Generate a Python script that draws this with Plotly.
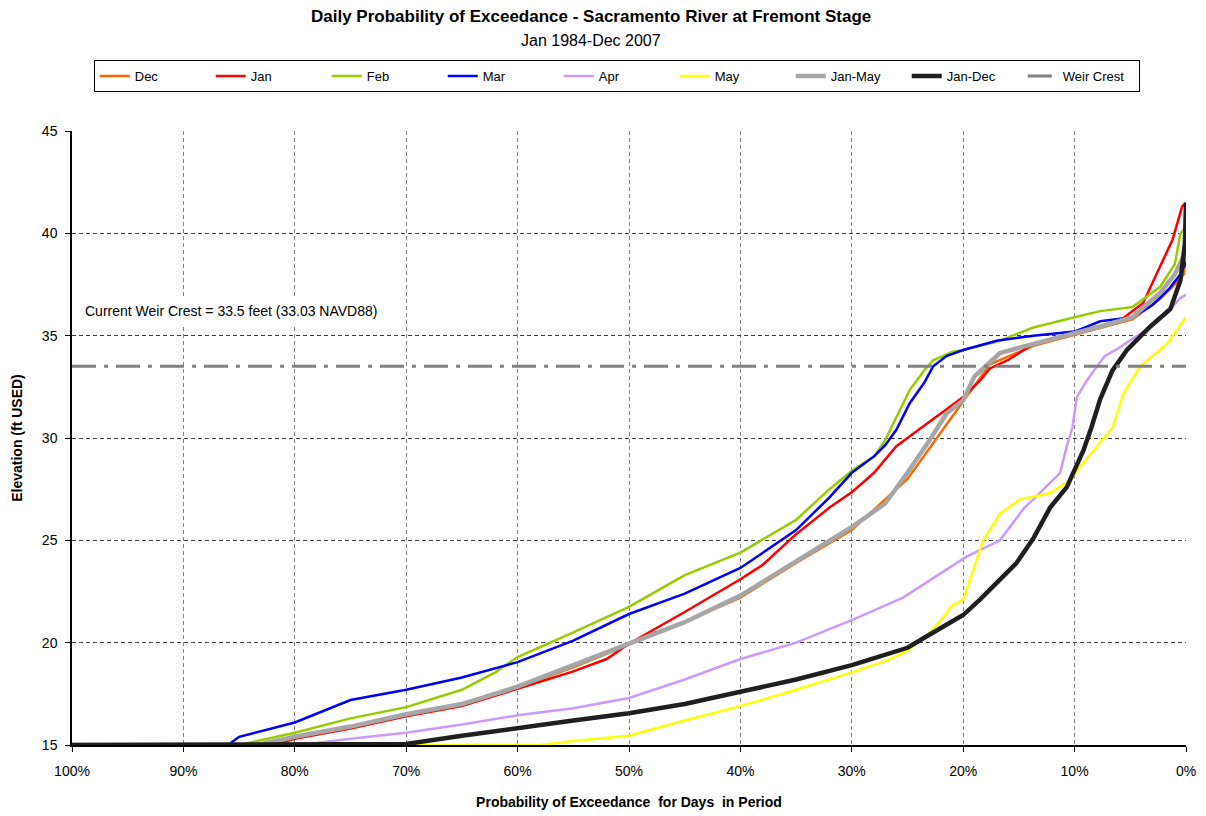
import plotly.graph_objects as go

# ---------------- data (probability of exceedance %, elevation ft) ----------------
dec_p = [100, 83, 80, 75, 70, 65, 60, 55, 50, 45, 40, 35, 30, 25, 20, 17.6, 13.7, 10, 7.7, 4.8, 2.3, 1, 0.2, 0.05, 0]
dec_v = [15, 15, 15.35, 15.85, 16.45, 16.95, 17.8, 18.8, 19.9, 21.0, 22.2, 23.9, 25.5, 28.0, 31.8, 33.6, 34.5, 35.05, 35.4, 35.8, 36.8, 37.5, 38.0, 38.6, 40.0]

jan_p = [100, 82, 80, 75, 70, 65, 60, 55, 52, 50, 45, 40, 38, 35, 32, 30, 28, 26, 24, 22, 20, 18.5, 17.6, 16, 13.7, 10, 6, 3.85, 2.3, 1.2, 0.35, 0]
jan_v = [15, 15, 15.3, 15.8, 16.4, 16.9, 17.75, 18.6, 19.2, 19.95, 21.5, 23.1, 23.8, 25.3, 26.6, 27.35, 28.3, 29.6, 30.4, 31.2, 32.0, 32.8, 33.4, 33.8, 34.6, 35.15, 35.7, 36.6, 38.4, 39.7, 41.3, 41.5]

feb_p = [100, 85, 80, 75, 70, 65, 62, 60, 55, 50, 45, 40, 35, 32, 30, 28, 27, 26, 24.8, 23.5, 22.7, 21, 20, 17, 13.7, 10, 7.7, 4.8, 2.3, 1, 0.5, 0]
feb_v = [15, 15, 15.6, 16.3, 16.85, 17.7, 18.55, 19.3, 20.5, 21.75, 23.3, 24.4, 26.0, 27.5, 28.4, 29.1, 29.9, 31.0, 32.35, 33.3, 33.8, 34.2, 34.3, 34.7, 35.4, 35.9, 36.2, 36.4, 37.4, 38.5, 40.0, 40.3]

mar_p = [100, 86, 85, 80, 75, 70, 65, 60, 55, 50, 45, 40, 35, 32, 30, 28, 27, 26, 24.8, 23.5, 22.7, 21.5, 20, 17, 13.7, 10, 7.7, 4.8, 3, 1.5, 0.5, 0]
mar_v = [15, 15, 15.4, 16.1, 17.2, 17.7, 18.3, 19.05, 20.1, 21.4, 22.4, 23.65, 25.5, 27.1, 28.3, 29.1, 29.65, 30.4, 31.7, 32.7, 33.5, 34.0, 34.3, 34.75, 35.0, 35.2, 35.7, 35.9, 36.5, 37.3, 38.0, 38.6]

apr_p = [100, 79.5, 75, 70, 65, 60, 55, 50, 45, 40, 35, 30, 25.4, 22.7, 19.7, 16.7, 14.5, 13.7, 11.3, 10.7, 10.2, 9.8, 8.9, 8.0, 7.3, 6, 5.5, 3.2, 1.7, 0.5, 0]
apr_v = [15, 15, 15.3, 15.6, 16.0, 16.45, 16.8, 17.3, 18.2, 19.2, 20.0, 21.1, 22.2, 23.15, 24.2, 25.0, 26.6, 27.0, 28.3, 29.6, 30.5, 32.0, 32.8, 33.5, 34.0, 34.4, 34.6, 35.4, 36.1, 36.85, 37.0]

may_p = [100, 58, 55, 50, 45, 40, 35, 30, 27, 25, 23, 22, 21, 20, 19, 18.2, 16.7, 14.9, 12.2, 10.4, 9.2, 7.7, 6.6, 5.6, 4.1, 1.7, 0.3, 0]
may_v = [15, 15, 15.2, 15.45, 16.2, 16.9, 17.7, 18.55, 19.1, 19.6, 20.5, 21.1, 21.8, 22.1, 23.7, 25.0, 26.3, 27.0, 27.3, 27.95, 28.8, 29.75, 30.5, 32.2, 33.5, 34.6, 35.7, 35.9]

janmay_p = [100, 83.4, 80, 75, 70, 65, 60, 55, 50, 45, 40, 35, 30, 27, 25, 23, 21.5, 20, 19, 17.6, 16.7, 13.7, 10, 7.7, 4.8, 2.3, 1, 0.3, 0]
janmay_v = [15, 15, 15.4, 15.9, 16.5, 17.0, 17.85, 18.9, 20.0, 21.0, 22.3, 24.0, 25.65, 26.8, 28.3, 29.9, 31.2, 31.85, 33.0, 33.7, 34.15, 34.6, 35.1, 35.45, 35.9, 37.1, 38.0, 38.8, 39.3]

jandec_p = [100, 71.5, 70, 65, 60, 55, 50, 45, 40, 35, 30, 27, 25, 23, 21.5, 20, 18.5, 17, 15.2, 13.7, 12.2, 10.7, 9.2, 8.5, 7.7, 6.6, 5.3, 3.2, 1.4, 0.5, 0.1, 0]
jandec_v = [15, 15, 15.05, 15.45, 15.85, 16.2, 16.55, 17.0, 17.6, 18.2, 18.9, 19.4, 19.75, 20.4, 20.9, 21.35, 22.1, 22.9, 23.9, 25.1, 26.6, 27.6, 29.4, 30.5, 31.9, 33.3, 34.3, 35.45, 36.3, 37.7, 39.5, 41.5]

weir_p = [100, 0]
weir_v = [33.5, 33.5]

x_ticks = [100, 90, 80, 70, 60, 50, 40, 30, 20, 10, 0]
x_labels = [f"{t}%" for t in x_ticks]
y_ticks = [15, 20, 25, 30, 35, 40, 45]

FONT = "Liberation Sans, Arial, sans-serif"

series = [
    ("Dec", dec_p, dec_v, "#FF6600", 2.5, "solid"),
    ("Jan", jan_p, jan_v, "#FF0000", 2.5, "solid"),
    ("Feb", feb_p, feb_v, "#99CC00", 2.5, "solid"),
    ("Mar", mar_p, mar_v, "#0000FF", 2.5, "solid"),
    ("Apr", apr_p, apr_v, "#CC99FF", 2.5, "solid"),
    ("May", may_p, may_v, "#FFFF00", 2.5, "solid"),
    ("Jan-May", janmay_p, janmay_v, "#A6A6A6", 4.5, "solid"),
    ("Jan-Dec", jandec_p, jandec_v, "#1F1F1F", 4.5, "solid"),
    ("Weir Crest", weir_p, weir_v, "#808080", 3, "24px,8px,4px,8px"),
]

fig = go.Figure()
for name, xs, ys, color, w, dash in series:
    fig.add_trace(go.Scatter(x=xs, y=ys, mode="lines", name=name,
                             line=dict(color=color, width=w, dash=dash)))

# page body has an 8px margin, so the figure is 8px smaller and margins are offset
fig.update_layout(
    width=1198, height=808,
    margin=dict(l=64, r=20, t=123, b=71, autoexpand=False),
    paper_bgcolor="white", plot_bgcolor="white",
    font=dict(family=FONT, size=14, color="#000000"),
    showlegend=True,
    legend=dict(orientation="h", xref="paper", yref="paper",
                x=0.489, xanchor="center", y=(745 - 60) / 614, yanchor="top",
                bordercolor="#000000", borderwidth=1,
                font=dict(size=13, family=FONT),
                itemwidth=30, entrywidth=71, tracegroupgap=0),
    xaxis=dict(range=[100, 0], tickvals=x_ticks, ticktext=x_labels,
               showgrid=True, gridcolor="#808080", griddash="4px,3px", gridwidth=1,
               showline=True, linecolor="#000000", linewidth=1.5,
               ticks="outside", ticklen=5, tickcolor="#000000", ticklabelstandoff=7,
               zeroline=False, tickfont=dict(size=14),
               title=dict(text="<b>Probability of Exceedance  for Days  in Period</b>",
                          font=dict(size=14), standoff=20)),
    yaxis=dict(range=[15, 45], tickvals=y_ticks,
               showgrid=True, gridcolor="#404040", griddash="4px,3px", gridwidth=1,
               showline=True, linecolor="#000000", linewidth=1.5,
               ticks="outside", ticklen=5, tickcolor="#000000", ticklabelstandoff=5,
               zeroline=False, tickfont=dict(size=14),
               title=dict(text="<b>Elevation (ft USED)</b>", font=dict(size=14), standoff=16)),
    annotations=[
        dict(text="<b>Daily Probability of Exceedance - Sacramento River at Fremont Stage</b>",
             xref="paper", yref="paper", x=0.466, y=(745 - 17) / 614, xanchor="center", yanchor="middle",
             showarrow=False, font=dict(size=17)),
        dict(text="Jan 1984-Dec 2007",
             xref="paper", yref="paper", x=0.466, y=(745 - 41) / 614, xanchor="center", yanchor="middle",
             showarrow=False, font=dict(size=16)),
        dict(text="Current Weir Crest = 33.5 feet (33.03 NAVD88)",
             xref="paper", yref="paper", x=(78 - 72) / 1114, y=(745 - 311) / 614,
             xanchor="left", yanchor="middle", showarrow=False,
             font=dict(size=14), bgcolor="white", borderpad=6),
    ],
)

fig.write_html("out.html")
